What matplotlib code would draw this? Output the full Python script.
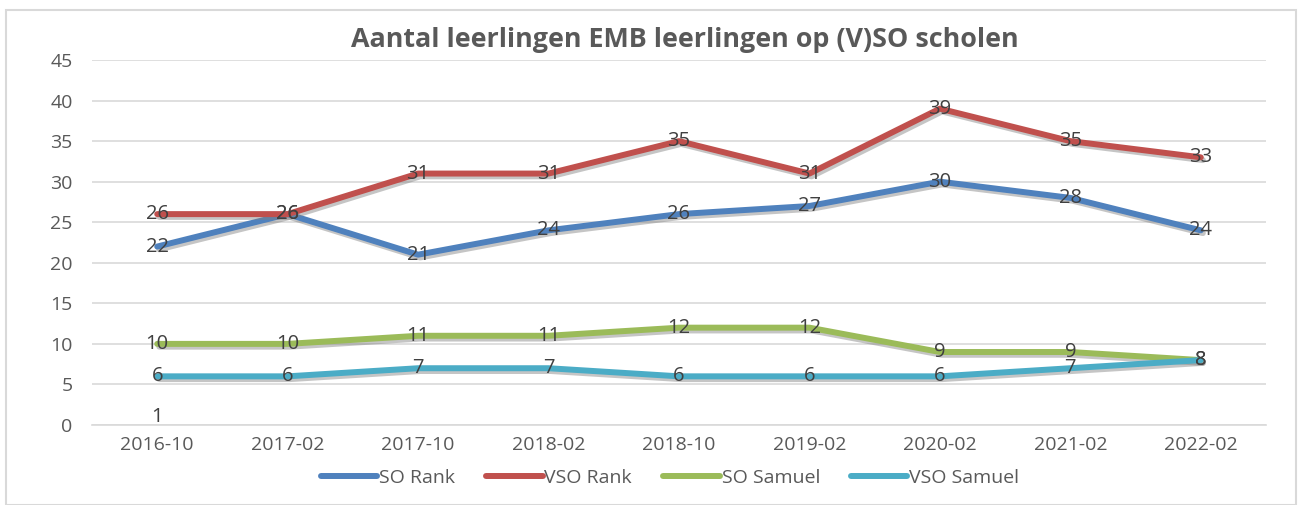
import numpy as np
import matplotlib
matplotlib.use('Agg')
import matplotlib.pyplot as plt
import matplotlib.patheffects as pe
from matplotlib.patches import Rectangle

categories = ['2016-10', '2017-02', '2017-10', '2018-02', '2018-10',
              '2019-02', '2020-02', '2021-02', '2022-02']
so_rank = [22, 26, 21, 24, 26, 27, 30, 28, 24]
vso_rank = [26, 26, 31, 31, 35, 31, 39, 35, 33]
so_samuel = [10, 10, 11, 11, 12, 12, 9, 9, 8]
vso_samuel = [6, 6, 7, 7, 6, 6, 6, 7, 8]
# stray single data label in the original chart
extra_label = [1]

series = [('SO Rank', so_rank, '#4F81BD'),
          ('VSO Rank', vso_rank, '#C0504D'),
          ('SO Samuel', so_samuel, '#9BBB59'),
          ('VSO Samuel', vso_samuel, '#4BACC6')]

plt.rcParams['font.family'] = ['Open Sans', 'DejaVu Sans']

fig = plt.figure(figsize=(13.01, 5.05), dpi=100)
fig.patches.append(Rectangle((6/1301, 0), 1290/1301, 1 - 10/505, transform=fig.transFigure,
                             fill=False, edgecolor='#d9d9d9', linewidth=1.5))
ax = fig.add_axes([92/1301, 1 - 425/505, (1266-92)/1301, (425-60)/505])

x = np.arange(len(categories))
shadow = [pe.SimpleLineShadow(offset=(1.5, -2), shadow_color='#7f7f7f', alpha=0.45), pe.Normal()]
for name, vals, col in series:
    ax.plot(x, vals, color=col, linewidth=4.3, solid_capstyle='round', label=name,
            path_effects=shadow, zorder=3)
for name, vals, col in series:
    for xi, v in zip(x, vals):
        ax.text(xi, v, str(v), ha='center', va='center', fontsize=14.5, color='#404040', zorder=5)
for xi, v in enumerate(extra_label):
    ax.text(xi, v, str(v), ha='center', va='center', fontsize=14.5, color='#404040', zorder=5)

ax.set_xlim(-0.5, len(categories) - 0.5)
ax.set_ylim(0, 45)
ax.set_yticks(np.arange(0, 46, 5))
ax.set_xticks(x)
ax.set_xticklabels(categories)
ax.tick_params(axis='both', length=0, labelsize=14, labelcolor='#595959')
ax.tick_params(axis='x', pad=8)
ax.tick_params(axis='y', pad=14)
ax.grid(axis='y', color='#d9d9d9', linewidth=1.2)
ax.set_axisbelow(True)
for s in ['top', 'right', 'left']:
    ax.spines[s].set_visible(False)
ax.spines['bottom'].set_color('#d9d9d9')
ax.spines['bottom'].set_linewidth(1.2)

fig.text(0.526, 1 - 40/505, 'Aantal leerlingen EMB leerlingen op (V)SO scholen',
         ha='center', va='center', fontsize=19.4, fontweight='bold', color='#595959')

leg = fig.legend(loc='center', bbox_to_anchor=(0.515, 1 - 478/505), ncol=4, frameon=False,
                 fontsize=14, handlelength=2.9, handletextpad=0.1, columnspacing=1.6)
for t in leg.get_texts():
    t.set_color('#595959')
for h in leg.get_lines():
    h.set_path_effects([])

fig.savefig('out.png', dpi=100)
